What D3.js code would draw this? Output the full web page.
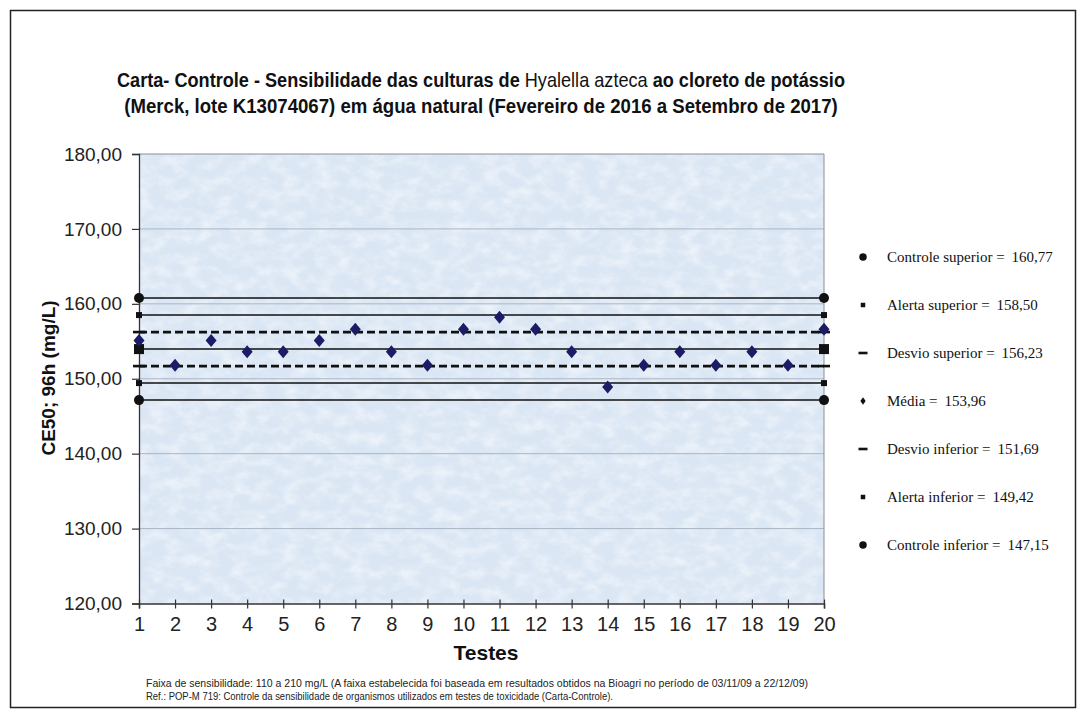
<!DOCTYPE html>
<html><head><meta charset="utf-8">
<script src="https://cdn.jsdelivr.net/npm/d3@7"></script>
<style>body{margin:0;background:#fff}svg{display:block}</style>
</head><body><svg id="c" width="1085" height="716"></svg>
<script>
const testes = [1,2,3,4,5,6,7,8,9,10,11,12,13,14,15,16,17,18,19,20];
const ce50 = [155.1,151.8,155.1,153.6,153.6,155.1,156.6,153.6,151.8,156.6,158.2,156.6,153.6,148.9,151.8,153.6,151.8,153.6,151.8,156.6];
const limitNames = ["Controle superior","Alerta superior","Desvio superior","Média","Desvio inferior","Alerta inferior","Controle inferior"];
const limitValues = [160.77,158.50,156.23,153.96,151.69,149.42,147.15];
const limitLabels = ["160,77","158,50","156,23","153,96","151,69","149,42","147,15"];
const limitMarkers = ["circle","square","dash","bigsquare","dash","square","circle"];
const legendMarkers = ["circle","square","dash","diamond","dash","square","circle"];
const limitDashed = [false,false,true,false,true,false,false];
const yTicks = [120,130,140,150,160,170,180];
const gridTicks = [130,140,150,160,170];

const svg = d3.select("#c");
const defs = svg.append("defs");
const f = defs.append("filter").attr("id","tex").attr("x",0).attr("y",0).attr("width","100%").attr("height","100%");
f.append("feTurbulence").attr("type","fractalNoise").attr("baseFrequency","0.06 0.09").attr("numOctaves",4).attr("seed",7).attr("result","n");
f.append("feColorMatrix").attr("in","n").attr("type","matrix")
 .attr("values","0 0 0 0 1  0 0 0 0 1  0 0 0 0 1  1.3 0 0 0 -0.5");

// frame
svg.append("rect").attr("x",10.5).attr("y",10.5).attr("width",1065).attr("height",697)
  .attr("fill","#fff").attr("stroke","#222").attr("stroke-width",1.5);

const x = d3.scaleLinear().domain([1,20]).range([139,824]);
const y = d3.scaleLinear().domain([120,180]).range([603.5,154]);

// plot background
svg.append("rect").attr("x",x(1)).attr("y",y(180)).attr("width",x(20)-x(1)).attr("height",y(120)-y(180))
  .attr("fill","#dae6f4");
svg.append("rect").attr("x",x(1)).attr("y",y(180)).attr("width",x(20)-x(1)).attr("height",y(120)-y(180))
  .attr("fill","#fff").attr("filter","url(#tex)").attr("opacity",0.8);

// gridlines
svg.append("g").selectAll("line").data(gridTicks).join("line")
  .attr("x1",x(1)).attr("x2",x(20)).attr("y1",d=>y(d)).attr("y2",d=>y(d))
  .attr("stroke","#aab6c4").attr("stroke-width",1);

// plot border top/right
svg.append("path").attr("d",`M${x(1)},${y(180)}H${x(20)}V${y(120)}`).attr("fill","none").attr("stroke","#8a8f96").attr("stroke-width",1);

// limit lines
svg.append("g").selectAll("line").data(limitValues).join("line")
  .attr("x1",x(1)).attr("x2",x(20)).attr("y1",d=>y(d)).attr("y2",d=>y(d))
  .attr("stroke","#111")
  .attr("stroke-width",(d,i)=>limitDashed[i]?2.6:1.5)
  .attr("stroke-dasharray",(d,i)=>limitDashed[i]?"8,4":null);

// axes
const yAxis = svg.append("g").attr("transform",`translate(${x(1)},0)`)
  .call(d3.axisLeft(y).tickValues(yTicks).tickSize(7).tickPadding(10).tickFormat(d=>d3.format(".2f")(d).replace(".",",")));
yAxis.select(".domain").attr("stroke","#333").attr("stroke-width",1.3);
yAxis.selectAll(".tick line").attr("stroke","#333").attr("stroke-width",1.2);
yAxis.selectAll(".tick text").attr("font-family","'Liberation Sans', Arial, sans-serif").attr("font-size",19).attr("fill","#222");

const xAxis = svg.append("g").attr("transform",`translate(0,${y(120)})`)
  .call(d3.axisBottom(x).tickValues(testes).tickSize(5).tickPadding(8).tickFormat(d3.format("d")));
xAxis.select(".domain").attr("stroke","#333").attr("stroke-width",1.5);
xAxis.selectAll(".tick line").attr("stroke","#333").attr("stroke-width",1.2).attr("y1",-4);
xAxis.selectAll(".tick text").attr("font-family","'Liberation Sans Narrow', 'Liberation Sans', Arial, sans-serif").attr("font-size",20).attr("fill","#222");

// endpoint markers
function marker(g, type, scale){
  const s = scale||1;
  if(type==="circle") g.append("circle").attr("r",5*s);
  else if(type==="square") g.append("rect").attr("x",-3*s).attr("y",-3*s).attr("width",6*s).attr("height",6*s);
  else if(type==="bigsquare") g.append("rect").attr("x",-5).attr("y",-5).attr("width",10).attr("height",10);
  else if(type==="dash") g.append("rect").attr("x",-6*s).attr("y",-1.3).attr("width",12*s).attr("height",2.6);
  else if(type==="diamond") g.append("path").attr("d",`M0,${-5*s}L${3.5*s},0L0,${5*s}L${-3.5*s},0Z`);
}
const ends = [1,20];
limitValues.forEach((v,i)=>{
  ends.forEach(e=>{
    const g = svg.append("g").attr("transform",`translate(${x(e)},${y(v)})`).attr("fill","#111");
    marker(g, limitMarkers[i], 1);
  });
});

// data points
svg.append("g").selectAll("path").data(ce50).join("path")
  .attr("transform",(d,i)=>`translate(${x(testes[i])},${y(d)})`)
  .attr("d","M0,-6.5L5.5,0L0,6.5L-5.5,0Z").attr("fill","#1b1b66");

// axis titles
svg.append("text").attr("x",486).attr("y",660).attr("text-anchor","middle")
  .attr("font-family","'Liberation Sans', Arial, sans-serif").attr("font-weight","bold").attr("font-size",21).attr("fill","#111").text("Testes");
svg.append("text").attr("transform","translate(55,378) rotate(-90)").attr("text-anchor","middle")
  .attr("font-family","'Liberation Sans', Arial, sans-serif").attr("font-weight","bold").attr("font-size",19).attr("fill","#111").text("CE50; 96h (mg/L)");

// title (horizontally condensed like the reference)
const tf = "'Liberation Sans', Arial, sans-serif";
const tg1 = svg.append("g").attr("transform","translate(481,0) scale(0.93,1)");
const t1 = tg1.append("text").attr("x",0).attr("y",87).attr("text-anchor","middle").attr("font-family",tf)
  .attr("font-size",19.5).attr("fill","#111");
t1.append("tspan").attr("font-weight","bold").text("Carta- Controle - Sensibilidade das culturas de ");
t1.append("tspan").attr("font-weight","normal").text("Hyalella azteca");
t1.append("tspan").attr("font-weight","bold").text(" ao cloreto de potássio");
const tg2 = svg.append("g").attr("transform","translate(481,0) scale(0.955,1)");
tg2.append("text").attr("x",0).attr("y",113).attr("text-anchor","middle").attr("font-family",tf)
  .attr("font-size",19.5).attr("fill","#111").attr("font-weight","bold")
  .text("(Merck, lote K13074067) em água natural (Fevereiro de 2016 a Setembro de 2017)");

// legend
limitNames.forEach((n,i)=>{
  const yy = 257 + i*48;
  const g = svg.append("g").attr("transform",`translate(863,${yy})`).attr("fill","#111");
  marker(g, legendMarkers[i], 0.75);
  const tx = svg.append("text").attr("x",887).attr("y",yy+5)
    .attr("font-family","'Liberation Serif', 'Times New Roman', serif").attr("font-size",15).attr("fill","#111");
  tx.append("tspan").text(n+" =");
  tx.append("tspan").attr("dx",7).text(limitLabels[i]);
});

// footnote
const fn = svg.append("g").attr("font-family","'Liberation Sans Narrow', 'Liberation Sans', Arial, sans-serif").attr("font-size",10.5).attr("fill","#222");
fn.append("text").attr("x",146).attr("y",687).attr("textLength",662).attr("lengthAdjust","spacingAndGlyphs")
  .text("Faixa de sensibilidade: 110 a 210 mg/L (A faixa estabelecida foi baseada em resultados obtidos na Bioagri no período de 03/11/09 a 22/12/09)");
fn.append("text").attr("x",146).attr("y",700).attr("textLength",467).attr("lengthAdjust","spacingAndGlyphs")
  .text("Ref.: POP-M 719: Controle da sensibilidade de organismos utilizados em testes de toxicidade (Carta-Controle).");
</script></body></html>
